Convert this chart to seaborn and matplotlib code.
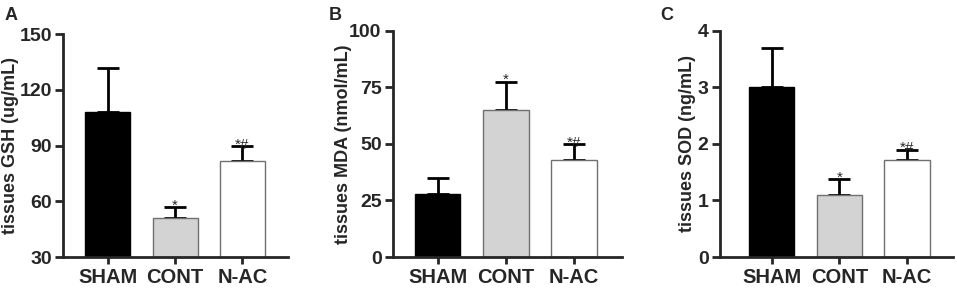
import numpy as np
import pandas as pd
import matplotlib
matplotlib.use("Agg")
import matplotlib.pyplot as plt
import seaborn as sns

groups = ["SHAM", "CONT", "N-AC"]
bar_colors = ["#000000", "#d3d3d3", "#ffffff"]
edge_colors = ["#000000", "#707070", "#707070"]
marks = ["", "*", "*#"]

gsh_mean = [108.0, 51.0, 81.5]
gsh_sd = [23.5, 6.0, 8.0]
mda_mean = [28.0, 65.0, 43.0]
mda_sd = [7.0, 12.5, 7.0]
sod_mean = [3.0, 1.1, 1.71]
sod_sd = [0.7, 0.28, 0.19]

panels = [
    dict(letter="A", mean=gsh_mean, sd=gsh_sd, ylabel="tissues GSH (ug/mL)",
         ylim=(30, 150), ticks=[30, 60, 90, 120, 150],
         rect=[0.0658, 0.1076, 0.2351, 0.774], xlim=(-0.67, 2.68),
         lx=0.005, labx=-0.196),
    dict(letter="B", mean=mda_mean, sd=mda_sd, ylabel="tissues MDA (nmol/mL)",
         ylim=(0, 100), ticks=[0, 25, 50, 75, 100],
         rect=[0.4103, 0.1076, 0.2393, 0.7858], xlim=(-0.66, 2.70),
         lx=0.343, labx=-0.178),
    dict(letter="C", mean=sod_mean, sd=sod_sd, ylabel="tissues SOD (ng/mL)",
         ylim=(0, 4), ticks=[0, 1, 2, 3, 4],
         rect=[0.752, 0.1076, 0.2438, 0.7858], xlim=(-0.77, 2.68),
         lx=0.690, labx=-0.100),
]

sns.set_style("ticks")
plt.rcParams["font.family"] = ["Liberation Sans", "DejaVu Sans"]
plt.rcParams["font.weight"] = "bold"

fig = plt.figure(figsize=(9.57, 2.88), dpi=100)

for p in panels:
    ax = fig.add_axes(p["rect"])
    df = pd.DataFrame({"group": groups, "value": p["mean"]})
    sns.barplot(data=df, x="group", y="value", hue="group", palette=bar_colors,
                legend=False, width=0.67, errorbar=None, ax=ax, zorder=2)
    for patch, ec in zip(ax.patches, edge_colors):
        patch.set_edgecolor(ec)
        patch.set_linewidth(1.0)
    x = np.arange(len(groups))
    ax.errorbar(x, p["mean"], yerr=[np.zeros(3), p["sd"]], fmt="none",
                ecolor="black", elinewidth=2, capsize=8, capthick=2, zorder=1)
    span = p["ylim"][1] - p["ylim"][0]
    for xi, m, s, t in zip(x, p["mean"], p["sd"], marks):
        if t:
            ax.text(xi, m + s - 0.025 * span, t, ha="center", va="bottom",
                    fontsize=11, fontweight="normal")
    ax.set_ylim(*p["ylim"])
    ax.set_xlim(*p["xlim"])
    ax.set_yticks(p["ticks"])
    ax.set_xlabel("")
    ax.set_ylabel(p["ylabel"], fontsize=13, fontweight="bold")
    ax.yaxis.set_label_coords(p["labx"], 0.5)
    ax.tick_params(axis="y", labelsize=14, width=2, length=6, pad=2)
    ax.tick_params(axis="x", labelsize=14.5, width=2, length=5, pad=3)
    for lab in ax.get_xticklabels() + ax.get_yticklabels():
        lab.set_fontweight("bold")
    for side in ["left", "bottom"]:
        ax.spines[side].set_linewidth(2)
    sns.despine(ax=ax)
    fig.text(p["lx"], 0.975, p["letter"], fontsize=13, fontweight="bold",
             ha="left", va="top")

fig.savefig("out.png", dpi=100)
